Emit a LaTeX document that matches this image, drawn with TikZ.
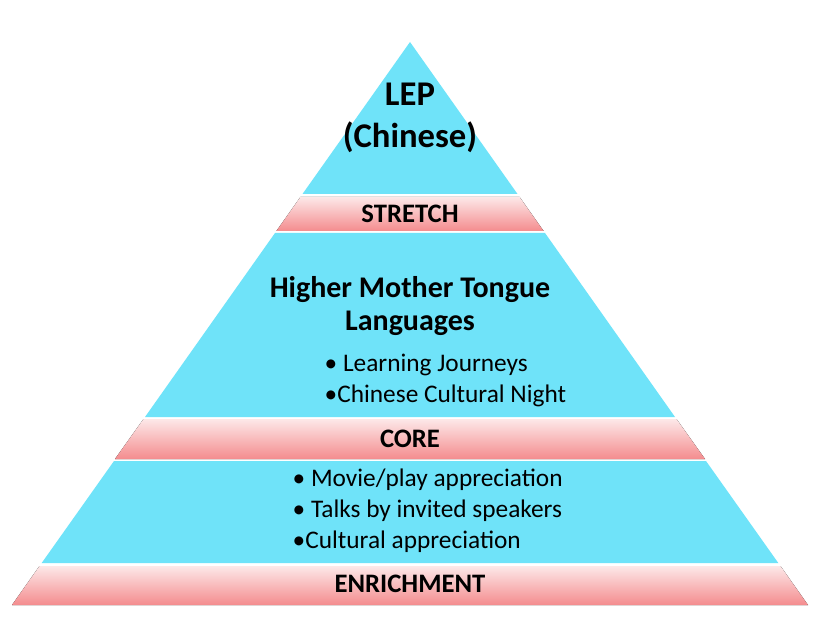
\documentclass[tikz,border=0pt]{standalone}
\usepackage{fontspec}
\setmainfont{Carlito}
\usetikzlibrary{positioning}
\definecolor{tier}{HTML}{6FE3F9}
\definecolor{bandlow}{HTML}{F48C8E}
\begin{document}
\begin{tikzpicture}[x=0.75pt,y=-0.75pt,
    tier/.style={fill=tier},
    band/.style={top color=white!80!bandlow, bottom color=bandlow},
    head/.style={font=\bfseries\fontsize{26}{31}\selectfont, align=center},
    sub/.style={font=\bfseries\fontsize{22.5}{25}\selectfont, align=center},
    item/.style={font=\fontsize{19}{22}\selectfont, align=left},
    bandtext/.style={font=\bfseries\fontsize{20}{22}\selectfont}]
    \useasboundingbox (0,0) rectangle (820,620);
    \fill[white] (0,0) rectangle (820,620);
    % tiers
    \fill[tier] (410,42) -- (517.5,194) -- (302.5,194) -- cycle;
    \fill[band] (300.4,197) -- (519.6,197) -- (543.6,231) -- (276.4,231) -- cycle;
    \fill[tier] (275,233) -- (545,233) -- (675,417) -- (145,417) -- cycle;
    \fill[band] (143.5,419) -- (676.5,419) -- (705,459) -- (115,459) -- cycle;
    \fill[tier] (114,461) -- (706,461) -- (778.3,563) -- (41.7,563) -- cycle;
    \fill[band] (39.5,566) -- (780.5,566) -- (808,605) -- (12,605) -- cycle;
    % texts
    \node[head] (lep) at (410,118) {LEP\\(Chinese)};
    \node[bandtext] (stretch) at (410,214) {STRETCH};
    \node[sub] (hmtl) at (410,306) {Higher Mother Tongue\\Languages};
    \node[item, anchor=west] (lj) at (320,365) {\textbullet\ Learning Journeys};
    \node[item, anchor=west] (ccn) at (320,396) {\textbullet Chinese Cultural Night};
    \node[bandtext] (core) at (410,439) {CORE};
    \node[item, anchor=west] (movie) at (288,480) {\textbullet\ Movie/play appreciation};
    \node[item, anchor=west] (talks) at (288,511) {\textbullet\ Talks by invited speakers};
    \node[item, anchor=west] (cult) at (288,542) {\textbullet Cultural appreciation};
    \node[bandtext] (enrich) at (410,584) {ENRICHMENT};
\end{tikzpicture}
\end{document}
